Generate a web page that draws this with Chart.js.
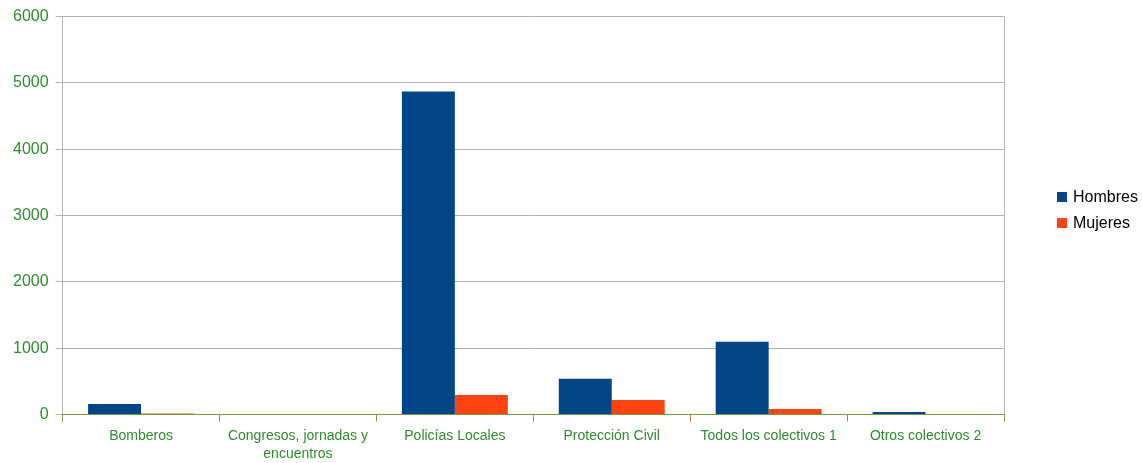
<!DOCTYPE html>
<html>
<head>
<meta charset="utf-8">
<script src="https://cdn.jsdelivr.net/npm/chart.js@4"></script>
<style>
  html, body { margin: 0; padding: 0; background: #fff; }
  #wrap { width: 1142px; height: 463px; }
</style>
</head>
<body>
<div id="wrap"><canvas id="c" width="1142" height="463"></canvas></div>
<script>
// categories and values
const categories = ['Bomberos', ['Congresos, jornadas y', 'encuentros'], 'Policías Locales', 'Protección Civil', 'Todos los colectivos 1', 'Otros colectivos 2']
const hombres = [160, 0, 4870, 540, 1100, 40]
const mujeres = [15, 0, 297, 221, 85, 8]
const yTicks = [0, 1000, 2000, 3000, 4000, 5000, 6000]

const green = '#2a8f2a'
const gridGray = '#b3b3b3'

// legend drawn by hand so it sits where the original puts it
const sideLegend = {
  id: 'sideLegend',
  afterDraw(chart) {
    const ctx = chart.ctx
    ctx.save()
    ctx.font = '16px "Liberation Sans"'
    ctx.textBaseline = 'middle'
    chart.data.datasets.forEach((ds, i) => {
      const y = 197 + i * 26
      ctx.fillStyle = ds.backgroundColor
      ctx.fillRect(1057, y - 5, 10, 10)
      ctx.fillStyle = '#000'
      ctx.fillText(ds.label, 1073, y + 1)
    })
    ctx.restore()
  },
}

const rightEdge = {
  id: 'rightEdge',
  afterDraw(chart) {
    const a = chart.chartArea, ctx = chart.ctx
    ctx.save()
    ctx.strokeStyle = gridGray
    ctx.lineWidth = 1
    ctx.beginPath()
    ctx.moveTo(Math.round(a.right) + 0.5, a.top)
    ctx.lineTo(Math.round(a.right) + 0.5, a.bottom)
    ctx.stroke()
    ctx.restore()
  },
}

new Chart(document.getElementById('c'), {
  type: 'bar',
  data: {
    labels: categories,
    datasets: [
      { label: 'Hombres', data: hombres, backgroundColor: '#004586', barPercentage: 1, categoryPercentage: 0.675 },
      { label: 'Mujeres', data: mujeres, backgroundColor: '#ff420e', barPercentage: 1, categoryPercentage: 0.675 },
    ],
  },
  options: {
    responsive: false,
    devicePixelRatio: 1,
    animation: false,
    layout: { padding: { top: 15, right: 138, left: 6, bottom: -5 } },
    plugins: {
      tooltip: { enabled: false },
      legend: { display: false },
    },
    scales: {
      y: {
        min: 0, max: 6000,
        afterBuildTicks: s => { s.ticks = yTicks.map(v => ({ value: v })) },
        grid: { color: gridGray, tickLength: 7 },
        border: { color: gridGray },
        ticks: { color: green, padding: 7, callback: v => String(v), font: { family: 'Liberation Sans', size: 16 } },
      },
      x: {
        grid: { drawOnChartArea: false, offset: true, tickLength: 7, color: '#7a9a3a' },
        border: { color: '#7a9a3a' },
        ticks: { color: green, maxRotation: 0, padding: 5, font: { family: 'Liberation Sans', size: 14, lineHeight: 1.3 } },
      },
    },
  },
  plugins: [rightEdge, sideLegend],
})
</script>
</body>
</html>
